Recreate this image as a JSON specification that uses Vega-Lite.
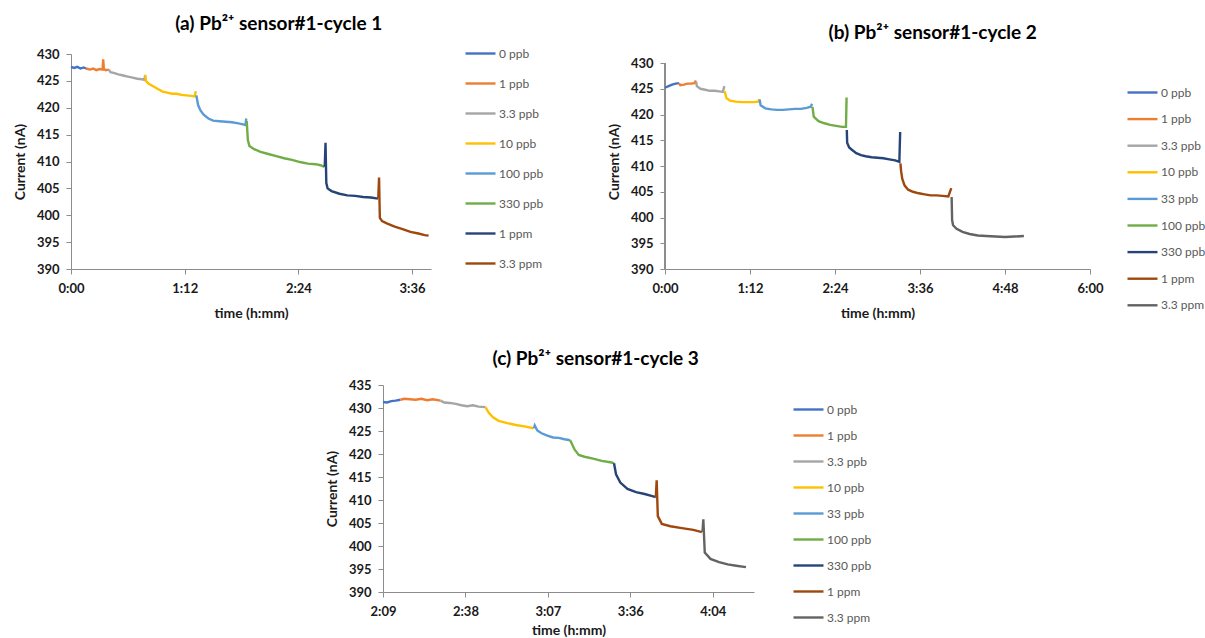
{
  "$schema": "https://vega.github.io/schema/vega-lite/v6.json",
  "padding": {"left": 13, "top": 15, "right": 0, "bottom": 0},
  "background": "white",
  "config": {
    "font": "Lato",
    "view": {"stroke": null},
    "title": {"font": "Lato", "fontSize": 19, "fontWeight": "bold", "color": "#000000", "anchor": "middle", "frame": "bounds", "offset": 3},
    "axis": {"labelFont": "Lato", "labelFontSize": 13, "labelFontWeight": "bold", "labelColor": "#1a1a1a", "titleFont": "Lato", "titleFontSize": 14, "titleFontWeight": "bold", "titleColor": "#1a1a1a", "domainColor": "#8c8c8c", "tickColor": "#8c8c8c", "tickSize": 5, "grid": false, "labelFlush": false},
    "axisY": {"labelPadding": 7, "titlePadding": 9},
    "axisX": {"labelPadding": 8, "titlePadding": 11, "labelAngle": 0},
    "legend": {"orient": "none", "title": null, "labelFont": "Lato", "labelFontSize": 12, "labelColor": "#595959", "symbolType": "stroke", "symbolSize": 900, "symbolStrokeWidth": 2.5, "labelOffset": 2, "padding": 0},
    "line": {"strokeWidth": 2.4}
  },
  "datasets": {
    "a": [
      {"t": 0, "v": 427.6, "s": "0 ppb"}, {"t": 2, "v": 427.4, "s": "0 ppb"}, {"t": 4, "v": 427.6, "s": "0 ppb"}, {"t": 6, "v": 427.3, "s": "0 ppb"}, {"t": 8, "v": 427.5, "s": "0 ppb"}, {"t": 9.5, "v": 427.3, "s": "0 ppb"},
      {"t": 9.5, "v": 427.3, "s": "1 ppb"}, {"t": 12, "v": 427.1, "s": "1 ppb"}, {"t": 14, "v": 427.3, "s": "1 ppb"}, {"t": 16, "v": 427.0, "s": "1 ppb"}, {"t": 18, "v": 427.2, "s": "1 ppb"}, {"t": 20, "v": 427.1, "s": "1 ppb"}, {"t": 20.4, "v": 429.0, "s": "1 ppb"}, {"t": 20.8, "v": 427.2, "s": "1 ppb"}, {"t": 22, "v": 427.0, "s": "1 ppb"}, {"t": 24, "v": 427.1, "s": "1 ppb"},
      {"t": 24, "v": 427.1, "s": "3.3 ppb"}, {"t": 25, "v": 426.6, "s": "3.3 ppb"}, {"t": 27, "v": 426.5, "s": "3.3 ppb"}, {"t": 30, "v": 426.2, "s": "3.3 ppb"}, {"t": 33, "v": 426.0, "s": "3.3 ppb"}, {"t": 36, "v": 425.8, "s": "3.3 ppb"}, {"t": 39, "v": 425.6, "s": "3.3 ppb"}, {"t": 42, "v": 425.4, "s": "3.3 ppb"}, {"t": 45, "v": 425.3, "s": "3.3 ppb"}, {"t": 46.5, "v": 425.2, "s": "3.3 ppb"}, {"t": 47, "v": 426.1, "s": "3.3 ppb"},
      {"t": 47, "v": 426.1, "s": "10 ppb"}, {"t": 47.5, "v": 425.0, "s": "10 ppb"}, {"t": 49, "v": 424.5, "s": "10 ppb"}, {"t": 52, "v": 424.0, "s": "10 ppb"}, {"t": 55, "v": 423.5, "s": "10 ppb"}, {"t": 58, "v": 423.0, "s": "10 ppb"}, {"t": 61, "v": 422.8, "s": "10 ppb"}, {"t": 64, "v": 422.6, "s": "10 ppb"}, {"t": 67, "v": 422.6, "s": "10 ppb"}, {"t": 70, "v": 422.4, "s": "10 ppb"}, {"t": 73, "v": 422.3, "s": "10 ppb"}, {"t": 76, "v": 422.2, "s": "10 ppb"}, {"t": 78.5, "v": 422.1, "s": "10 ppb"}, {"t": 79, "v": 423.1, "s": "10 ppb"},
      {"t": 79.4, "v": 422.3, "s": "100 ppb"}, {"t": 80.5, "v": 420.5, "s": "100 ppb"}, {"t": 82, "v": 419.5, "s": "100 ppb"}, {"t": 84, "v": 418.7, "s": "100 ppb"}, {"t": 87, "v": 418.0, "s": "100 ppb"}, {"t": 90, "v": 417.6, "s": "100 ppb"}, {"t": 94, "v": 417.5, "s": "100 ppb"}, {"t": 98, "v": 417.4, "s": "100 ppb"}, {"t": 102, "v": 417.3, "s": "100 ppb"}, {"t": 106, "v": 417.1, "s": "100 ppb"}, {"t": 109, "v": 416.9, "s": "100 ppb"}, {"t": 110.5, "v": 416.8, "s": "100 ppb"}, {"t": 111, "v": 418.0, "s": "100 ppb"},
      {"t": 111.3, "v": 417.5, "s": "330 ppb"}, {"t": 112, "v": 414.0, "s": "330 ppb"}, {"t": 113, "v": 412.9, "s": "330 ppb"}, {"t": 116, "v": 412.3, "s": "330 ppb"}, {"t": 120, "v": 411.8, "s": "330 ppb"}, {"t": 125, "v": 411.4, "s": "330 ppb"}, {"t": 130, "v": 411.0, "s": "330 ppb"}, {"t": 135, "v": 410.6, "s": "330 ppb"}, {"t": 140, "v": 410.3, "s": "330 ppb"}, {"t": 145, "v": 409.9, "s": "330 ppb"}, {"t": 150, "v": 409.6, "s": "330 ppb"}, {"t": 155, "v": 409.5, "s": "330 ppb"}, {"t": 158, "v": 409.3, "s": "330 ppb"}, {"t": 160.5, "v": 409.0, "s": "330 ppb"},
      {"t": 160.7, "v": 409.0, "s": "1 ppm"}, {"t": 161.2, "v": 413.5, "s": "1 ppm"}, {"t": 161.7, "v": 406.0, "s": "1 ppm"}, {"t": 162.5, "v": 405.0, "s": "1 ppm"}, {"t": 165, "v": 404.5, "s": "1 ppm"}, {"t": 170, "v": 404.0, "s": "1 ppm"}, {"t": 175, "v": 403.7, "s": "1 ppm"}, {"t": 180, "v": 403.6, "s": "1 ppm"}, {"t": 185, "v": 403.4, "s": "1 ppm"}, {"t": 190, "v": 403.3, "s": "1 ppm"}, {"t": 194.4, "v": 403.1, "s": "1 ppm"},
      {"t": 194.6, "v": 403.1, "s": "3.3 ppm"}, {"t": 195.1, "v": 407.0, "s": "3.3 ppm"}, {"t": 195.6, "v": 399.5, "s": "3.3 ppm"}, {"t": 197, "v": 398.9, "s": "3.3 ppm"}, {"t": 200, "v": 398.5, "s": "3.3 ppm"}, {"t": 205, "v": 397.9, "s": "3.3 ppm"}, {"t": 210, "v": 397.4, "s": "3.3 ppm"}, {"t": 215, "v": 396.9, "s": "3.3 ppm"}, {"t": 220, "v": 396.6, "s": "3.3 ppm"}, {"t": 224, "v": 396.3, "s": "3.3 ppm"}, {"t": 226.5, "v": 396.2, "s": "3.3 ppm"}
    ],
    "b": [
      {"t": 0, "v": 425.2, "s": "0 ppb"}, {"t": 3, "v": 425.5, "s": "0 ppb"}, {"t": 6, "v": 425.8, "s": "0 ppb"}, {"t": 9, "v": 426.0, "s": "0 ppb"}, {"t": 11.8, "v": 426.1, "s": "0 ppb"},
      {"t": 11.8, "v": 426.1, "s": "1 ppb"}, {"t": 13, "v": 425.7, "s": "1 ppb"}, {"t": 16, "v": 425.8, "s": "1 ppb"}, {"t": 19, "v": 426.0, "s": "1 ppb"}, {"t": 22, "v": 426.0, "s": "1 ppb"}, {"t": 25, "v": 426.1, "s": "1 ppb"}, {"t": 26.2, "v": 426.6, "s": "1 ppb"},
      {"t": 26.4, "v": 426.3, "s": "3.3 ppb"}, {"t": 27, "v": 425.5, "s": "3.3 ppb"}, {"t": 30, "v": 425.0, "s": "3.3 ppb"}, {"t": 34, "v": 424.8, "s": "3.3 ppb"}, {"t": 38, "v": 424.6, "s": "3.3 ppb"}, {"t": 42, "v": 424.6, "s": "3.3 ppb"}, {"t": 46, "v": 424.5, "s": "3.3 ppb"}, {"t": 49, "v": 424.4, "s": "3.3 ppb"}, {"t": 50.3, "v": 425.5, "s": "3.3 ppb"},
      {"t": 50.6, "v": 424.5, "s": "10 ppb"}, {"t": 52, "v": 423.2, "s": "10 ppb"}, {"t": 55, "v": 422.7, "s": "10 ppb"}, {"t": 60, "v": 422.5, "s": "10 ppb"}, {"t": 65, "v": 422.4, "s": "10 ppb"}, {"t": 70, "v": 422.4, "s": "10 ppb"}, {"t": 75, "v": 422.4, "s": "10 ppb"}, {"t": 79, "v": 422.5, "s": "10 ppb"}, {"t": 79.8, "v": 423.0, "s": "10 ppb"},
      {"t": 80.1, "v": 422.9, "s": "33 ppb"}, {"t": 81, "v": 421.8, "s": "33 ppb"}, {"t": 85, "v": 421.2, "s": "33 ppb"}, {"t": 90, "v": 421.0, "s": "33 ppb"}, {"t": 95, "v": 420.9, "s": "33 ppb"}, {"t": 100, "v": 420.9, "s": "33 ppb"}, {"t": 105, "v": 421.0, "s": "33 ppb"}, {"t": 110, "v": 421.1, "s": "33 ppb"}, {"t": 115, "v": 421.1, "s": "33 ppb"}, {"t": 120, "v": 421.3, "s": "33 ppb"}, {"t": 123.5, "v": 421.5, "s": "33 ppb"}, {"t": 124.6, "v": 422.1, "s": "33 ppb"},
      {"t": 124.9, "v": 421.5, "s": "100 ppb"}, {"t": 126, "v": 419.6, "s": "100 ppb"}, {"t": 130, "v": 418.7, "s": "100 ppb"}, {"t": 135, "v": 418.3, "s": "100 ppb"}, {"t": 140, "v": 418.0, "s": "100 ppb"}, {"t": 145, "v": 417.8, "s": "100 ppb"}, {"t": 150, "v": 417.6, "s": "100 ppb"}, {"t": 153.3, "v": 417.6, "s": "100 ppb"}, {"t": 153.8, "v": 423.3, "s": "100 ppb"},
      {"t": 154.0, "v": 417.0, "s": "330 ppb"}, {"t": 154.3, "v": 414.5, "s": "330 ppb"}, {"t": 156, "v": 413.6, "s": "330 ppb"}, {"t": 158, "v": 413.2, "s": "330 ppb"}, {"t": 162, "v": 412.5, "s": "330 ppb"}, {"t": 166, "v": 412.1, "s": "330 ppb"}, {"t": 170, "v": 411.9, "s": "330 ppb"}, {"t": 175, "v": 411.7, "s": "330 ppb"}, {"t": 180, "v": 411.6, "s": "330 ppb"}, {"t": 185, "v": 411.5, "s": "330 ppb"}, {"t": 190, "v": 411.3, "s": "330 ppb"}, {"t": 195, "v": 411.1, "s": "330 ppb"}, {"t": 198.5, "v": 410.8, "s": "330 ppb"}, {"t": 199.2, "v": 416.6, "s": "330 ppb"},
      {"t": 199.4, "v": 410.5, "s": "1 ppm"}, {"t": 200, "v": 409.0, "s": "1 ppm"}, {"t": 201, "v": 407.5, "s": "1 ppm"}, {"t": 203, "v": 406.2, "s": "1 ppm"}, {"t": 206, "v": 405.4, "s": "1 ppm"}, {"t": 210, "v": 405.0, "s": "1 ppm"}, {"t": 215, "v": 404.7, "s": "1 ppm"}, {"t": 220, "v": 404.5, "s": "1 ppm"}, {"t": 225, "v": 404.3, "s": "1 ppm"}, {"t": 230, "v": 404.3, "s": "1 ppm"}, {"t": 235, "v": 404.2, "s": "1 ppm"}, {"t": 240, "v": 404.1, "s": "1 ppm"}, {"t": 242.5, "v": 405.7, "s": "1 ppm"},
      {"t": 242.8, "v": 404.0, "s": "3.3 ppm"}, {"t": 243.2, "v": 399.5, "s": "3.3 ppm"}, {"t": 244, "v": 398.5, "s": "3.3 ppm"}, {"t": 247, "v": 397.8, "s": "3.3 ppm"}, {"t": 252, "v": 397.2, "s": "3.3 ppm"}, {"t": 258, "v": 396.8, "s": "3.3 ppm"}, {"t": 265, "v": 396.5, "s": "3.3 ppm"}, {"t": 272, "v": 396.4, "s": "3.3 ppm"}, {"t": 280, "v": 396.3, "s": "3.3 ppm"}, {"t": 288, "v": 396.2, "s": "3.3 ppm"}, {"t": 296, "v": 396.3, "s": "3.3 ppm"}, {"t": 304, "v": 396.4, "s": "3.3 ppm"}
    ],
    "c": [
      {"t": 129.6, "v": 431.3, "s": "0 ppb"}, {"t": 131, "v": 431.2, "s": "0 ppb"}, {"t": 132.5, "v": 431.5, "s": "0 ppb"}, {"t": 134, "v": 431.6, "s": "0 ppb"}, {"t": 135.7, "v": 431.8, "s": "0 ppb"},
      {"t": 135.7, "v": 431.8, "s": "1 ppb"}, {"t": 137, "v": 432.0, "s": "1 ppb"}, {"t": 139, "v": 431.9, "s": "1 ppb"}, {"t": 141, "v": 431.8, "s": "1 ppb"}, {"t": 143, "v": 432.0, "s": "1 ppb"}, {"t": 145, "v": 431.7, "s": "1 ppb"}, {"t": 147, "v": 431.9, "s": "1 ppb"}, {"t": 149.7, "v": 431.6, "s": "1 ppb"},
      {"t": 149.7, "v": 431.6, "s": "3.3 ppb"}, {"t": 151, "v": 431.2, "s": "3.3 ppb"}, {"t": 153, "v": 431.1, "s": "3.3 ppb"}, {"t": 155, "v": 430.9, "s": "3.3 ppb"}, {"t": 157, "v": 430.6, "s": "3.3 ppb"}, {"t": 159, "v": 430.4, "s": "3.3 ppb"}, {"t": 161, "v": 430.6, "s": "3.3 ppb"}, {"t": 163, "v": 430.3, "s": "3.3 ppb"}, {"t": 165.4, "v": 430.2, "s": "3.3 ppb"},
      {"t": 165.4, "v": 430.2, "s": "10 ppb"}, {"t": 166.5, "v": 429.0, "s": "10 ppb"}, {"t": 168, "v": 428.0, "s": "10 ppb"}, {"t": 170, "v": 427.2, "s": "10 ppb"}, {"t": 173, "v": 426.7, "s": "10 ppb"}, {"t": 176, "v": 426.3, "s": "10 ppb"}, {"t": 179, "v": 426.0, "s": "10 ppb"}, {"t": 182.2, "v": 425.6, "s": "10 ppb"},
      {"t": 182.3, "v": 425.6, "s": "33 ppb"}, {"t": 182.6, "v": 426.2, "s": "33 ppb"}, {"t": 183.5, "v": 425.1, "s": "33 ppb"}, {"t": 185, "v": 424.5, "s": "33 ppb"}, {"t": 187, "v": 424.0, "s": "33 ppb"}, {"t": 189, "v": 423.6, "s": "33 ppb"}, {"t": 191, "v": 423.5, "s": "33 ppb"}, {"t": 193, "v": 423.2, "s": "33 ppb"}, {"t": 195, "v": 423.0, "s": "33 ppb"},
      {"t": 195, "v": 423.0, "s": "100 ppb"}, {"t": 196.5, "v": 421.0, "s": "100 ppb"}, {"t": 198, "v": 419.8, "s": "100 ppb"}, {"t": 200, "v": 419.4, "s": "100 ppb"}, {"t": 203, "v": 419.0, "s": "100 ppb"}, {"t": 206, "v": 418.5, "s": "100 ppb"}, {"t": 209, "v": 418.2, "s": "100 ppb"}, {"t": 210.3, "v": 418.0, "s": "100 ppb"},
      {"t": 210.3, "v": 418.0, "s": "330 ppb"}, {"t": 211, "v": 415.6, "s": "330 ppb"}, {"t": 212.5, "v": 413.8, "s": "330 ppb"}, {"t": 215, "v": 412.4, "s": "330 ppb"}, {"t": 218, "v": 411.7, "s": "330 ppb"}, {"t": 221, "v": 411.3, "s": "330 ppb"}, {"t": 224, "v": 410.8, "s": "330 ppb"}, {"t": 224.9, "v": 410.6, "s": "330 ppb"},
      {"t": 224.9, "v": 410.6, "s": "1 ppm"}, {"t": 225.2, "v": 414.3, "s": "1 ppm"}, {"t": 225.6, "v": 406.5, "s": "1 ppm"}, {"t": 227, "v": 404.8, "s": "1 ppm"}, {"t": 230, "v": 404.3, "s": "1 ppm"}, {"t": 234, "v": 403.9, "s": "1 ppm"}, {"t": 238, "v": 403.5, "s": "1 ppm"}, {"t": 241, "v": 403.0, "s": "1 ppm"},
      {"t": 241.2, "v": 403.0, "s": "3.3 ppm"}, {"t": 241.5, "v": 405.8, "s": "3.3 ppm"}, {"t": 242, "v": 398.6, "s": "3.3 ppm"}, {"t": 244, "v": 397.2, "s": "3.3 ppm"}, {"t": 247, "v": 396.5, "s": "3.3 ppm"}, {"t": 250, "v": 396.0, "s": "3.3 ppm"}, {"t": 253, "v": 395.7, "s": "3.3 ppm"}, {"t": 256.4, "v": 395.4, "s": "3.3 ppm"}
    ]
  },
  "vconcat": [
    {
      "hconcat": [
        {
          "title": {"text": "(a) Pb²⁺ sensor#1-cycle 1"},
          "width": 360, "height": 215,
          "data": {"name": "a"},
          "mark": {"type": "line"},
          "encoding": {
            "x": {"field": "t", "type": "quantitative", "scale": {"domain": [0, 228], "nice": false, "zero": false}, "axis": {"title": "time (h:mm)", "values": [0, 72, 144, 216], "labelExpr": "floor(datum.value/60) + ':' + (floor(datum.value%60) < 10 ? '0' : '') + floor(datum.value%60)"}},
            "y": {"field": "v", "type": "quantitative", "scale": {"domain": [390, 430], "nice": false, "zero": false}, "axis": {"title": "Current (nA)", "values": [390, 395, 400, 405, 410, 415, 420, 425, 430]}},
            "color": {"field": "s", "type": "nominal", "scale": {"domain": ["0 ppb", "1 ppb", "3.3 ppb", "10 ppb", "100 ppb", "330 ppb", "1 ppm", "3.3 ppm"], "range": ["#4472C4", "#ED7D31", "#A5A5A5", "#FFC000", "#5B9BD5", "#70AD47", "#264478", "#9E480E"]}, "legend": {"legendX": 393, "legendY": -17, "rowPadding": 7}}
          }
        },
        {
          "title": {"text": "(b) Pb²⁺ sensor#1-cycle 2", "dx": 26, "offset": 11},
          "width": 425, "height": 215,
          "data": {"name": "b"},
          "layer": [
            {
              "mark": {"type": "rule", "color": "#8c8c8c", "strokeWidth": 1},
              "encoding": {
                "x": {"datum": 0, "type": "quantitative", "scale": {"domain": [0, 360], "nice": false, "zero": false}, "axis": {"title": "time (h:mm)", "values": [0, 72, 144, 216, 288, 360], "labelExpr": "floor(datum.value/60) + ':' + (floor(datum.value%60) < 10 ? '0' : '') + floor(datum.value%60)"}},
                "y": {"datum": 390, "type": "quantitative", "scale": {"domain": [390, 431.75], "nice": false, "zero": false}, "axis": {"title": "Current (nA)", "domain": false, "values": [390, 395, 400, 405, 410, 415, 420, 425, 430]}},
                "y2": {"datum": 430}
              }
            },
            {
              "mark": {"type": "line"},
              "encoding": {
                "x": {"field": "t", "type": "quantitative", "scale": {"domain": [0, 360], "nice": false, "zero": false}, "axis": {"title": "time (h:mm)", "values": [0, 72, 144, 216, 288, 360], "labelExpr": "floor(datum.value/60) + ':' + (floor(datum.value%60) < 10 ? '0' : '') + floor(datum.value%60)"}},
                "y": {"field": "v", "type": "quantitative", "scale": {"domain": [390, 431.75], "nice": false, "zero": false}, "axis": {"title": "Current (nA)", "domain": false, "values": [390, 395, 400, 405, 410, 415, 420, 425, 430]}},
                "color": {"field": "s", "type": "nominal", "scale": {"domain": ["0 ppb", "1 ppb", "3.3 ppb", "10 ppb", "33 ppb", "100 ppb", "330 ppb", "1 ppm", "3.3 ppm"], "range": ["#4472C4", "#ED7D31", "#A5A5A5", "#FFC000", "#5B9BD5", "#70AD47", "#264478", "#9E480E", "#636363"]}, "legend": {"legendX": 461, "legendY": 22, "rowPadding": 3.6}}
              }
            }
          ]
        }
      ],
      "spacing": 63,
      "align": "none",
      "resolve": {"scale": {"color": "independent", "x": "independent", "y": "independent"}, "legend": {"color": "independent"}}
    },
    {
      "title": {"text": "(c) Pb²⁺ sensor#1-cycle 3", "dx": -14, "offset": 2},
      "width": 371, "height": 207,
      "data": {"name": "c"},
      "mark": {"type": "line"},
      "encoding": {
        "x": {"field": "t", "type": "quantitative", "scale": {"domain": [129.6, 259.2], "nice": false, "zero": false}, "axis": {"title": "time (h:mm)", "titlePadding": 5, "values": [129.6, 158.4, 187.2, 216, 244.8], "labelExpr": "floor(datum.value/60) + ':' + (floor(datum.value%60) < 10 ? '0' : '') + floor(datum.value%60)"}},
        "y": {"field": "v", "type": "quantitative", "scale": {"domain": [390, 435], "nice": false, "zero": false}, "axis": {"title": "Current (nA)", "values": [390, 395, 400, 405, 410, 415, 420, 425, 430, 435]}},
        "color": {"field": "s", "type": "nominal", "scale": {"domain": ["0 ppb", "1 ppb", "3.3 ppb", "10 ppb", "33 ppb", "100 ppb", "330 ppb", "1 ppm", "3.3 ppm"], "range": ["#4472C4", "#ED7D31", "#A5A5A5", "#FFC000", "#5B9BD5", "#70AD47", "#264478", "#9E480E", "#636363"]}, "legend": {"legendX": 387, "legendY": -14, "rowPadding": 3, "padding": 22}}
      }
    }
  ],
  "spacing": 30,
  "center": true,
  "resolve": {"scale": {"color": "independent", "x": "independent", "y": "independent"}, "legend": {"color": "independent"}}
}
